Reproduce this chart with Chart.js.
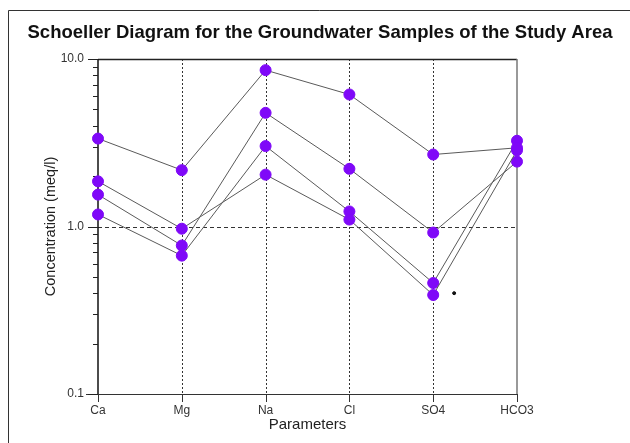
<!DOCTYPE html>
<html>
<head>
<meta charset="utf-8">
<script src="https://cdn.jsdelivr.net/npm/chart.js@4/dist/chart.umd.min.js"></script>
<style>
  html, body { margin: 0; padding: 0; background: #ffffff; }
  #wrap { width: 630px; height: 443px; position: relative; }
</style>
</head>
<body>
<div id="wrap"><canvas id="c" width="630" height="443"></canvas></div>
<script>
// ---- data ----
const categories = ['Ca', 'Mg', 'Na', 'Cl', 'SO4', 'HCO3'];
const sample1 = [3.35, 2.17, 8.58, 6.14, 2.69, 2.95];
const sample2 = [1.86, 0.97, 2.04, 1.10, 0.39, 2.85];
const sample3 = [1.55, 0.77, 4.77, 2.21, 0.92, 2.44];
const sample4 = [1.18, 0.67, 3.02, 1.23, 0.46, 3.25];
const strayDot = [{ x: 4.25, y: 0.40 }];
const yMajorTicks = [0.1, 1, 10];
const yTickLabels = ['0.1', '1.0', '10.0'];
const chartTitle = 'Schoeller Diagram for the Groundwater Samples of the Study Area';
const xTitle = 'Parameters';
const yTitle = 'Concentration (meq/l)';

const samples = [sample1, sample2, sample3, sample4];
const markerColor = '#7f08f8';
const FONT = 'Liberation Sans, Arial, sans-serif';

const datasets = samples.map((s, i) => ({
  label: 'Sample ' + (i + 1),
  data: s.map((v, j) => ({ x: j, y: v })),
  borderColor: '#5a5a5a',
  borderWidth: 1,
  pointRadius: 5.5,
  pointHoverRadius: 5.5,
  pointBackgroundColor: markerColor,
  pointBorderColor: markerColor,
  pointBorderWidth: 1,
  tension: 0,
  clip: false
}));
datasets.push({
  label: 'dot',
  data: strayDot,
  showLine: false,
  pointRadius: 1.5,
  pointBackgroundColor: '#111',
  pointBorderColor: '#111',
  clip: false
});

const framePlugin = {
  id: 'frame',
  beforeDraw(chart) {
    const ctx = chart.ctx;
    ctx.save();
    ctx.fillStyle = '#ffffff';
    ctx.fillRect(0, 0, chart.width, chart.height);
    ctx.strokeStyle = '#333';
    ctx.lineWidth = 1;
    ctx.beginPath();
    ctx.moveTo(8.5, chart.height + 5);
    ctx.lineTo(8.5, 10.5);
    ctx.lineTo(chart.width + 5, 10.5);
    ctx.stroke();
    // chart title
    ctx.fillStyle = '#111';
    ctx.font = 'bold 18.5px ' + FONT;
    ctx.textAlign = 'center';
    ctx.textBaseline = 'middle';
    ctx.fillText(chartTitle, 320, 33);
    ctx.restore();
  },
  beforeDatasetsDraw(chart) {
    const ctx = chart.ctx;
    const xs = chart.scales.x, ys = chart.scales.y;
    const { left, right, top, bottom } = chart.chartArea;
    ctx.save();
    // vertical dotted lines at inner categories
    ctx.strokeStyle = '#333';
    ctx.lineWidth = 1;
    ctx.setLineDash([2, 2]);
    for (let i = 1; i < categories.length - 1; i++) {
      const x = Math.round(xs.getPixelForValue(i)) + 0.5;
      ctx.beginPath();
      ctx.moveTo(x, top);
      ctx.lineTo(x, bottom);
      ctx.stroke();
    }
    // horizontal dashed line at 1.0
    ctx.setLineDash([4, 3]);
    const y1 = Math.round(ys.getPixelForValue(1)) + 0.5;
    ctx.beginPath();
    ctx.moveTo(left, y1);
    ctx.lineTo(right, y1);
    ctx.stroke();
    ctx.setLineDash([]);
    // top border
    ctx.strokeStyle = '#222';
    ctx.lineWidth = 1.5;
    ctx.beginPath();
    ctx.moveTo(left, top + 0.5);
    ctx.lineTo(right, top + 0.5);
    ctx.stroke();
    // right border
    ctx.strokeStyle = '#777';
    ctx.lineWidth = 1.5;
    ctx.beginPath();
    ctx.moveTo(right, top);
    ctx.lineTo(right, bottom);
    ctx.stroke();
    // left axis
    ctx.strokeStyle = '#111';
    ctx.lineWidth = 1.5;
    ctx.beginPath();
    ctx.moveTo(left, top);
    ctx.lineTo(left, bottom);
    ctx.stroke();
    // bottom axis
    ctx.strokeStyle = '#333';
    ctx.lineWidth = 1.2;
    ctx.beginPath();
    ctx.moveTo(left - 12, bottom + 0.5);
    ctx.lineTo(right, bottom + 0.5);
    ctx.stroke();
    // y ticks
    ctx.strokeStyle = '#222';
    ctx.lineWidth = 1;
    yMajorTicks.forEach(v => {
      const y = Math.round(ys.getPixelForValue(v)) + 0.5;
      ctx.beginPath();
      ctx.moveTo(left - 10, y);
      ctx.lineTo(left, y);
      ctx.stroke();
    });
    for (let d = 0; d < 2; d++) {
      const base = yMajorTicks[d];
      for (let k = 2; k <= 9; k++) {
        const y = Math.round(ys.getPixelForValue(base * k)) + 0.5;
        ctx.beginPath();
        ctx.moveTo(left - 5, y);
        ctx.lineTo(left, y);
        ctx.stroke();
      }
    }
    // x ticks
    ctx.strokeStyle = '#333';
    for (let i = 0; i < categories.length; i++) {
      const x = Math.round(xs.getPixelForValue(i)) + 0.5;
      ctx.beginPath();
      ctx.moveTo(x, bottom);
      ctx.lineTo(x, bottom + 8);
      ctx.stroke();
    }
    ctx.restore();
  }
};

new Chart(document.getElementById('c'), {
  type: 'line',
  data: { datasets },
  options: {
    responsive: false,
    animation: false,
    events: [],
    layout: { padding: { left: 8, right: 113, top: 59, bottom: 0 } },
    plugins: {
      legend: { display: false },
      tooltip: { enabled: false },
      title: { display: false }
    },
    scales: {
      x: {
        type: 'linear',
        min: 0,
        max: categories.length - 1,
        offset: false,
        grid: { display: false },
        border: { display: false },
        ticks: {
          stepSize: 1,
          autoSkip: false,
          maxRotation: 0,
          padding: 1,
          color: '#333',
          font: { family: FONT, size: 12 },
          callback: v => categories[v] !== undefined ? categories[v] : ''
        },
        title: {
          display: true,
          text: xTitle,
          color: '#222',
          font: { family: FONT, size: 15 },
          padding: { top: 0, bottom: 9 }
        },
        afterFit: s => { s.height = 49; }
      },
      y: {
        type: 'logarithmic',
        min: 0.1,
        max: 10,
        grid: { display: false },
        border: { display: false },
        afterBuildTicks: s => { s.ticks = yMajorTicks.map(v => ({ value: v })); },
        ticks: {
          autoSkip: false,
          padding: 6,
          color: '#333',
          font: { family: FONT, size: 12 },
          callback: v => {
            const i = yMajorTicks.indexOf(v);
            return i >= 0 ? yTickLabels[i] : '';
          }
        },
        title: {
          display: true,
          text: yTitle,
          color: '#222',
          font: { family: FONT, size: 14.5 },
          padding: { top: 34, bottom: 0 }
        },
        afterFit: s => { s.width = 90; }
      }
    }
  },
  plugins: [framePlugin]
});
</script>
</body>
</html>
